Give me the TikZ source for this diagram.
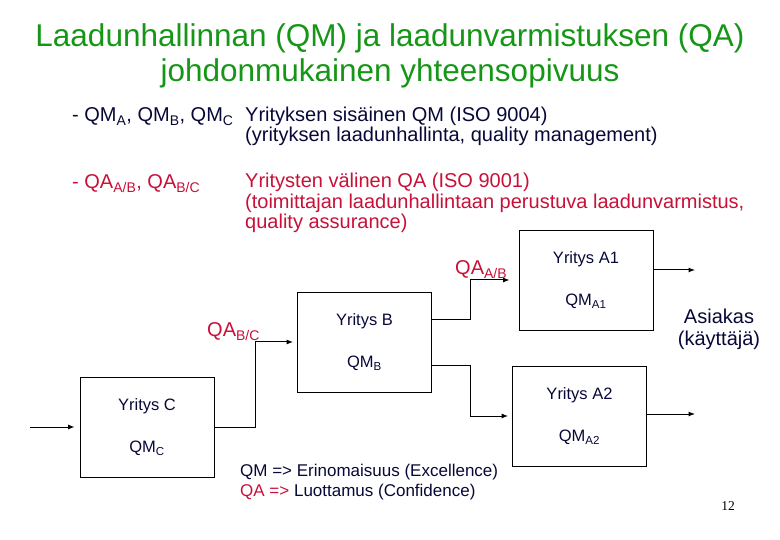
\documentclass[tikz,border=0pt]{standalone}
\usepackage{fontspec}
\setmainfont{Liberation Sans}
\newfontfamily\numfont{Liberation Serif}
\usepackage{tikz}
\usetikzlibrary{arrows.meta,calc,positioning}
\definecolor{titlegreen}{RGB}{22,150,22}
\definecolor{qmnavy}{RGB}{8,8,56}
\definecolor{qared}{RGB}{200,16,56}
\tikzset{
    % laatikko yritykselle
    firmbox/.style={
        draw=black,
        line width=0.8pt,
        minimum width=134pt,
        minimum height=100pt,
        align=center,
        text=qmnavy,
        font=\fontsize{16.5}{20}\selectfont
    },
    % nuoli laatikosta toiseen
    flowarrow/.style={
        line width=1pt,
        black,
        -{Latex[length=6.5pt, width=5pt]}
    },
    plaintext/.style={inner sep=0pt, anchor=base west}
}

\begin{document}
\begin{tikzpicture}[x=1pt,y=-1pt]
	\useasboundingbox (0,0) rectangle (780,540);
	
	% otsikko
	\node[inner sep=0pt, anchor=base, text=titlegreen, font=\fontsize{31.5}{35}\selectfont] (title1) at (390,47) {Laadunhallinnan (QM) ja laadunvarmistuksen (QA)};
	\node[inner sep=0pt, anchor=base, text=titlegreen, font=\fontsize{31.5}{35}\selectfont] (title2) at (390,82) {johdonmukainen yhteensopivuus};
	
	% QM-selitys
	\begin{scope}[every node/.style={plaintext, text=qmnavy, font=\fontsize{20}{22}\selectfont}]
	\node (qmlist) at (72,122) {- QM\textsubscript{A}, QM\textsubscript{B}, QM\textsubscript{C}};
	\node (qmdef1) at (245,122) {Yrityksen sisäinen QM (ISO 9004)};
	\node (qmdef2) at (245,142) {(yrityksen laadunhallinta, quality management)};
	\end{scope}
	
	% QA-selitys
	\begin{scope}[every node/.style={plaintext, text=qared, font=\fontsize{20}{22}\selectfont}]
	\node (qalist) at (72,189) {- QA\textsubscript{A/B}, QA\textsubscript{B/C}};
	\node (qadef1) at (245,188) {Yritysten välinen QA (ISO 9001)};
	\node (qadef2) at (245,209) {(toimittajan laadunhallintaan perustuva laadunvarmistus,};
	\node (qadef3) at (245,229) {quality assurance)};
	\end{scope}
	
	% yritykset
	\node[firmbox] (boxC) at (147,427) {Yritys C\\[22pt]QM\textsubscript{C}};
	\node[firmbox] (boxB) at (364.5,342) {Yritys B\\[22pt]QM\textsubscript{B}};
	\node[firmbox] (boxA1) at (586,280) {Yritys A1\\[22pt]QM\textsubscript{A1}};
	\node[firmbox] (boxA2) at (579.5,416) {Yritys A2\\[22pt]QM\textsubscript{A2}};
	
	\coordinate (inC) at (30,427);
	\coordinate (outA1) at (695,270);
	\coordinate (outA2) at (695,414);
	
	% nuolet
	\draw[flowarrow,shorten >=5pt] (inC) -- (boxC);
	\draw[flowarrow,shorten >=4pt] (boxC.east) -- ++(41,0) |- (boxB);
	\draw[flowarrow,shorten >=9pt] ([yshift=22pt]boxB.east) -- ++(39,0) |- (boxA1);
	\draw[flowarrow,shorten >=4pt] ([yshift=-24pt]boxB.east) -- ++(39,0) |- (boxA2);
	\draw[flowarrow] ([yshift=10pt]boxA1.east) -- (outA1);
	\draw[flowarrow] ([yshift=2pt]boxA2.east) -- (outA2);
	
	% QA-nimet nuolten luona
	\node[plaintext, text=qared, font=\fontsize{20}{24}\selectfont] (qaAB) at (455,275) {QA\textsubscript{A/B}};
	\node[plaintext, text=qared, font=\fontsize{20}{24}\selectfont] (qaBC) at (207,337) {QA\textsubscript{B/C}};
	
	% asiakas
	\node[inner sep=0pt, align=center, text=qmnavy, font=\fontsize{20}{22}\selectfont] (client) at (719,329) {Asiakas\\(käyttäjä)};
	
	% alaosan teksti
	\node[plaintext, text=qmnavy, font=\fontsize{17}{20}\selectfont] (excel) at (240,476) {QM => Erinomaisuus (Excellence)};
	\node[plaintext, text=qmnavy, font=\fontsize{17}{20}\selectfont] (confid) at (240,496) {\textcolor{qared}{QA =>} Luottamus (Confidence)};
	
	\node[inner sep=0pt, anchor=base, font=\numfont\fontsize{13.5}{16}\selectfont] (pagenum) at (728,510) {12};
\end{tikzpicture}
\end{document}
